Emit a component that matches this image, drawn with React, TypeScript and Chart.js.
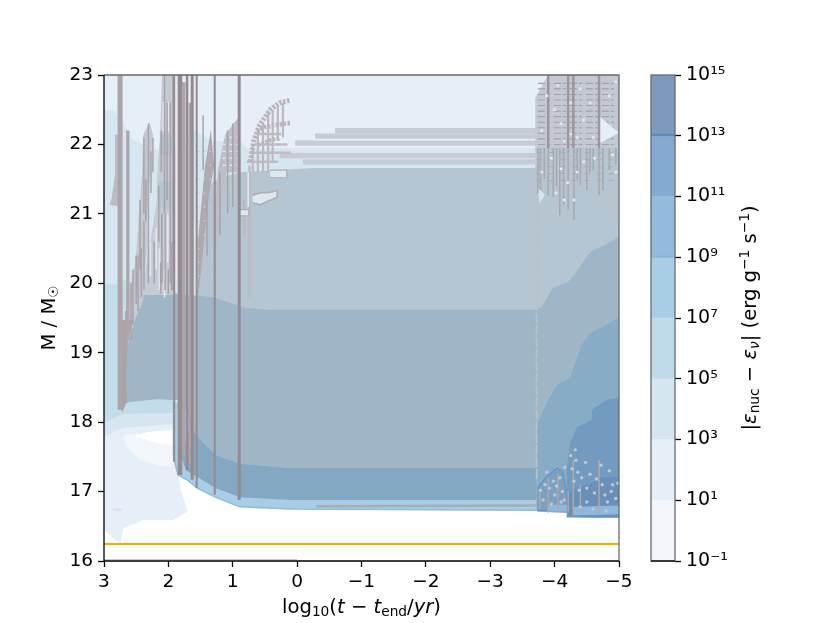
import React, { useEffect, useRef } from "react";
import { Chart, registerables } from "chart.js";

Chart.register(...registerables);

type P = [number, number];
type Seg = [number, number, number];

// ---- axes ----
const xTickValues = [3, 2, 1, 0, -1, -2, -3, -4, -5];
const yTickValues = [16, 17, 18, 19, 20, 21, 22, 23];
const barLevels = [0.1, 1e1, 1e3, 1e5, 1e7, 1e9, 1e11, 1e13, 1e15];
const barTickLabels = ["10⁻¹", "10¹", "10³", "10⁵", "10⁷", "10⁹", "10¹¹", "10¹³", "10¹⁵"];
const barColours = ["#f2f6fa", "#e6eff7", "#d6e6f1", "#bfdaea", "#a8cde5", "#93bbdc", "#85aad2", "#7e99bc"];
const barSeams: [number, number][] = [[1e9, 1.1e9], [1e13, 1.15e13]];
const barSeamColours = ["#86b6dc", "#5f8dba"];

// ---- contour regions (log t, mass) ----
const envelope: P[] = [[3, 23], [-5, 23], [-5, 16.7], [-3.7, 16.72], [0, 16.75], [0.89, 16.78], [1.27, 16.92], [1.55, 17.05], [1.7, 17.17], [1.85, 17.31], [1.82, 17.07], [1.7, 16.71], [1.93, 16.59], [2.39, 16.59], [2.7, 16.47], [2.75, 16.24], [3, 16.45]];
const halo: P[] = [[2.7, 17.81], [1.93, 17.89], [1.93, 17.35], [2.18, 17.38], [2.44, 17.45], [2.64, 17.64]];
const core: P[] = [[2.52, 17.81], [2.29, 17.86], [1.93, 17.89], [1.93, 17.67], [2.18, 17.7], [2.44, 17.77]];
const bump: P[] = [[2.86, 16.76], [2.72, 16.76], [2.72, 16.72], [2.86, 16.72]];
const shell3: P[] = [[3, 22.51], [2.83, 22.48], [2.7, 22.3], [2.55, 22.06], [2.29, 21.96], [2.13, 21.92], [1.75, 21.95], [1.62, 22.22], [1.31, 22.05], [0.89, 22.05], [0.78, 21.95], [-5, 21.95], [-5, 19], [1.9, 17.97], [2.7, 17.92], [3, 17.79]];
const shell5: P[] = [[3, 20], [2.8, 19.98], [2.7, 20.05], [2.2, 19.9], [1.9, 19.85], [1.93, 18.13], [2.7, 18.12], [3, 17.99]];
const upperZone: P[] = [[1.54, 19], [1.54, 20.55], [1.46, 21.23], [1.31, 21.46], [1.04, 21.56], [0.89, 21.6], [-0.25, 21.66], [-3.7, 21.66], [-3.7, 21.95], [-5, 21.95], [-5, 19]];
const burnEdge: P[] = [[1.92, 18.3], [1.92, 17.5], [1.85, 17.24], [1.71, 17.17], [1.55, 17.05], [1.27, 16.92], [0.89, 16.78], [0.11, 16.75], [-3.72, 16.73], [-3.72, 18], [1, 18]];
const midZone: P[] = [[2.72, 18.25], [2.7, 19.11], [2.63, 19.69], [2.52, 19.79], [2.33, 19.86], [1.97, 19.86], [1.31, 19.8], [0.78, 19.64], [0.42, 19.62], [-3.7, 19.62], [-3.8, 19.66], [-3.97, 19.93], [-4.21, 20.02], [-4.36, 20.19], [-4.52, 20.41], [-4.6, 20.48], [-4.78, 20.55], [-5, 20.67], [-5, 17.34], [0.11, 17.34], [0.89, 17.4], [1.27, 17.53], [1.55, 17.79], [1.66, 17.96], [1.74, 18.15], [1.85, 18.32], [1.93, 18.32], [2.18, 18.33], [2.6, 18.29]];
const deepZone: P[] = [[1.66, 17.96], [1.55, 17.79], [1.27, 17.53], [0.89, 17.4], [0.11, 17.34], [-3.72, 17.34], [-3.72, 16.88], [0.11, 16.88], [0.89, 16.92], [1.27, 17.05], [1.55, 17.21], [1.72, 17.3], [1.8, 17.5]];
const deepRight: P[] = [[-5, 19.51], [-4.74, 19.37], [-4.58, 19.3], [-4.44, 19.15], [-4.35, 18.94], [-4.24, 18.64], [-4.04, 18.54], [-3.9, 18.32], [-3.74, 17.99], [-3.73, 17.31], [-3.73, 16.71], [-4.19, 16.69], [-4.19, 16.63], [-4.58, 16.62], [-5, 16.62]];
const coreRight: P[] = [[-4.19, 17.34], [-4.24, 17.7], [-4.35, 17.93], [-4.58, 18.03], [-4.58, 18.18], [-4.81, 18.32], [-5, 18.35], [-5, 16.7], [-4.19, 16.7]];
const stairLeft: P[] = [[-3.73, 17.05], [-3.9, 17.24], [-4.04, 17.34], [-4.13, 17.28], [-4.19, 16.95], [-4.19, 16.73], [-3.73, 16.73]];
const stairRight: P[] = [[-4.19, 16.95], [-4.35, 17.05], [-4.58, 17.12], [-4.7, 17.2], [-5, 17.2], [-5, 16.64], [-4.19, 16.64]];
const glowLeft: P[] = [[-3.9, 16.81], [-4.19, 16.81], [-4.19, 16.72], [-3.9, 16.72]];
const glowRight: P[] = [[-4.3, 16.78], [-5, 16.8], [-5, 16.67], [-4.3, 16.66]];

// ---- convective patches ----
const plume0: P[] = [[2.83, 22.14], [2.72, 22.14], [2.72, 21.1], [2.91, 21.13], [2.88, 21.23], [2.83, 21.56]];
const plume1: P[] = [[2.29, 22.32], [2.39, 22.14], [2.41, 21.56], [2.46, 20.98], [2.49, 20.55], [2.52, 20.26], [2.6, 19.93], [2.67, 19.54], [2.72, 19.11], [2.63, 19.11], [2.52, 19.47], [2.39, 19.76], [2.33, 20.55], [2.33, 20.98], [2.29, 21.56], [2.24, 22.14]];
const plume2: P[] = [[2.1, 23], [1.9, 23], [1.9, 19.83], [2.44, 19.83], [2.35, 20.19], [2.29, 20.55], [2.18, 21.17], [2.18, 21.46], [2.13, 22.14]];
const patchA: P[] = [[2.13, 22.14], [1.9, 22.14], [1.9, 21.85], [2.13, 21.85]];
const patchB: P[] = [[2.16, 21.46], [1.94, 21.46], [1.94, 21.08], [2.16, 21.08]];
const footing: P[] = [[2.75, 19.47], [2.55, 19.47], [2.63, 19.18], [2.66, 18.65], [2.64, 18.32], [2.72, 18.13], [2.75, 18.51], [2.75, 19.08]];
const streak: P[] = [[1.34, 22.21], [1.43, 21.7], [1.54, 20.62], [1.54, 19.76], [1.46, 20.48], [1.38, 21.2], [1.29, 21.7]];
const fanCentre: P[] = [[0.92, 22.38], [1.12, 22.14], [1.23, 21.63], [1.28, 21.06], [1.26, 20.4], [1.18, 21], [1.1, 21.6], [0.92, 21.6]];
const pocket: P[] = [[0.69, 21.27], [0.58, 21.3], [0.42, 21.31], [0.31, 21.34], [0.31, 21.24], [0.58, 21.13], [0.69, 21.16]];
const pocketB: P[] = [[0.89, 21.06], [0.75, 21.06], [0.75, 20.97], [0.89, 20.97]];
const pocketC: P[] = [[0.42, 21.63], [0.16, 21.63], [0.16, 21.52], [0.42, 21.52]];
const capRight: P[] = [[-3.9, 23], [-5, 23], [-5, 21.95], [-3.7, 21.95], [-3.7, 22.67]];
const notch: P[] = [[-4.67, 22.42], [-5, 22.17], [-4.71, 22.02]];
const notchLow: P[] = [[-3.73, 21.39], [-3.85, 21.27], [-3.77, 21.16]];

// ---- arcs in the fan at log t ~ 0.5 ----
const arcOne: P[] = [[0.73, 21.75], [0.67, 22.06], [0.58, 22.28], [0.42, 22.5], [0.27, 22.6], [0.1, 22.64]];
const arcTwo: P[] = [[0.62, 22.18], [0.5, 22.25], [0.34, 22.28], [0.1, 22.31]];
const arcThree: P[] = [[0.61, 21.99], [0.42, 22.06], [0.27, 22.09]];

// ---- vertical runs: x, upper mass, lower mass ----
const stemX = [1.91, 1.82, 1.71, 1.63, 1.56, 1.28, 0.9];
const stemBase = [17.43, 17.24, 17.31, 17.17, 17.05, 16.95, 16.88];
const stemWidths = [2, 4.5, 2.5, 3, 2, 2, 3];
const coolStems: Seg[] = [[2.75, 23, 18.18]];
const thinStems: Seg[] = [[2.63, 22.2, 19.18], [1.76, 22.9, 17.5], [1.66, 22.6, 17.4]];
const plumeLines: Seg[] = [[2.38, 22.1, 21], [2.31, 22.3, 20.7], [2.24, 22.1, 21.6], [2.44, 21.2, 20.2], [2.38, 20.9, 19.9], [2.5, 20.4, 19.7], [2.58, 20, 19.2], [2.66, 19.6, 19], [2.31, 20.7, 20], [2.11, 22.2, 21.6], [2.06, 23, 21], [2.02, 22.6, 21.2], [1.97, 22.6, 20], [1.93, 23, 19.9], [2.15, 21.4, 20.6], [2.1, 21, 20], [2.05, 21, 19.9], [2.22, 20.6, 20], [1.46, 22.42, 21.63], [1.4, 21.2, 20.4], [1.2, 21.6, 20.7], [1.08, 22.2, 21.0], [1.0, 22.3, 21.1], [2.55, 20.2, 19.4], [2.47, 20.4, 19.6], [2.42, 20.5, 19.8], [2.35, 21.5, 20.9], [2.27, 21.9, 21.3], [1.95, 20.6, 19.9], [2.0, 20.2, 19.85], [2.12, 20.3, 19.85]];
const paleLines: Seg[] = [[2.08, 22.61, 22.18], [2, 22.61, 22.18], [2.05, 21, 20.3], [2.01, 21, 20.3], [2.19, 20.8, 20.2], [0.76, 21.6, 21.1], [1.87, 23, 20], [2.14, 20.5, 19.9], [2.06, 20.2, 19.8], [2.28, 20.6, 20.1]];
const fanLines: Seg[] = [[0.69, 22, 21.6], [0.61, 22.2, 21.6], [0.53, 22.3, 21.6], [0.45, 22.45, 21.6], [0.38, 22.5, 21.75], [0.3, 22.55, 22.05], [0.22, 22.6, 22.1], [0.82, 21.2, 20.7], [0.74, 21.7, 19.8]];
const capStems: Seg[] = [[-3.9, 23, 21.95], [-4.21, 23, 21.95], [-4.29, 23, 21.95], [-4.69, 23, 21.95]];
const drips: Seg[] = [[-3.74, 21.95, 21.3], [-3.78, 21.95, 21.34], [-3.84, 21.95, 21.5], [-3.9, 21.95, 21.27], [-3.98, 21.95, 21.25], [-4.03, 21.95, 21.4], [-4.08, 21.95, 20.98], [-4.14, 21.95, 21.13], [-4.21, 21.95, 21.06], [-4.3, 21.95, 20.91], [-4.35, 21.95, 21.5], [-4.4, 21.95, 21.42], [-4.5, 21.95, 21.34], [-4.55, 21.95, 21.6], [-4.6, 21.95, 21.63], [-4.69, 21.95, 21.27], [-4.75, 21.95, 21.34], [-4.85, 21.95, 21.63], [-4.95, 21.95, 21.7]];
const boundaryStem: P[] = [[-3.72, 21.3], [-3.72, 17.17]];
const lowSpikes: Seg[] = [[-3.9, 17.2, 16.7], [-4.29, 17.45, 16.65], [-4.69, 17.45, 16.68], [-4.21, 17, 16.7], [-4.05, 17.25, 16.75], [-3.77, 17.0, 16.75], [-4.4, 17.1, 16.7]];

// ---- horizontal runs: mass, start, end ----
const bandRows: Seg[] = [[22.2, -0.59, -3.73], [22.12, -0.28, -3.73], [22.02, 0.03, -3.73], [21.84, 0.27, -3.73], [21.75, -0.09, -3.73]];
const fanRows: Seg[] = [[22.15, 0.6, 0.25], [22, 0.66, 0.15], [21.88, 0.72, 0.1], [21.75, 0.78, 0.3]];
const centreRows: number[] = [22.1, 22, 21.9, 21.8, 21.7];
const streakRows: number[] = [21.9, 21.7, 21.5, 21.3, 21.1, 20.9, 20.7, 20.5, 20.3, 20.1];
const capRows: number[] = [22.88, 22.8, 22.72, 22.64, 22.56, 22.48, 22.4, 22.32, 22.24, 22.16, 22.08, 22];
const dripRows: number[] = [21.88, 21.78, 21.68, 21.58, 21.48];
const leak: P[] = [[-0.3, 16.79], [-3.72, 16.8]];
const orangeLine: P[] = [[3, 16.245], [-5, 16.245]];
const floorLine: P[] = [[3, 16.02], [0, 16.02]];

// ---- speckles ----
const capCells: P[] = [[-3.88, 22.7], [-4.0, 22.5], [-4.1, 22.3], [-4.05, 22.85], [-4.25, 22.6], [-4.4, 22.8], [-4.45, 22.35], [-4.55, 22.6], [-4.35, 22.1], [-4.25, 22.15], [-4.6, 22.1], [-4.85, 22.7], [-4.95, 22.9], [-3.8, 22.2], [-4.15, 22.05], [-3.95, 21.8], [-4.1, 21.65], [-4.2, 21.45], [-4.35, 21.6], [-4.45, 21.75], [-4.62, 21.8], [-4.9, 21.85], [-4.95, 21.6], [-4.02, 21.3], [-4.15, 21.2], [-3.8, 21.6], [-4.3, 21.2]];
const floorCells: P[] = [[-3.85, 17.1], [-3.98, 17.15], [-4.08, 17.2], [-4.12, 17.0], [-4.0, 16.95], [-3.82, 16.88], [-4.1, 16.85], [-3.95, 16.82], [-4.25, 17.52], [-4.32, 17.6], [-4.36, 17.28], [-4.42, 17.2], [-4.48, 17.42], [-4.3, 17.15], [-4.5, 17.05], [-4.62, 16.98], [-4.5, 16.85], [-4.78, 16.95], [-4.88, 17.0], [-4.95, 16.9], [-4.85, 17.3], [-4.72, 17.38], [-4.9, 17.1], [-4.4, 16.78], [-4.6, 16.75], [-4.8, 16.72], [-3.78, 17.02], [-3.88, 17.28], [-3.92, 17.05], [-4.03, 17.08], [-4.16, 17.35], [-4.27, 17.33], [-4.33, 17.45], [-4.38, 17.02], [-4.55, 17.25], [-4.65, 17.18], [-4.74, 17.1], [-4.82, 16.85], [-4.98, 17.12], [-4.15, 16.88]];

const PLOT = { left: 104, right: 619, top: 75, bottom: 561 };
const BAR = { left: 651, right: 675 };

type Run = { t: string; it?: boolean; sub?: boolean; sup?: boolean };
const FONT = '"DejaVu Sans"';
const TICK_SIZE = 18.5;
const SIZE = 19.6;
const xLabelRuns: Run[] = [{ t: "log" }, { t: "10", sub: true }, { t: "(" }, { t: "t", it: true }, { t: " − " }, { t: "t", it: true }, { t: "end", sub: true }, { t: "/" }, { t: "yr", it: true }, { t: ")" }];
const yLabelRuns: Run[] = [{ t: "M / M" }, { t: "☉", sub: true }];
const barLabelRuns: Run[] = [{ t: "|" }, { t: "ε", it: true }, { t: "nuc", sub: true }, { t: " − " }, { t: "ε", it: true }, { t: "ν", sub: true, it: true }, { t: "| (erg g" }, { t: "−1", sup: true }, { t: " s" }, { t: "−1", sup: true }, { t: ")" }];

function runFont(r: Run) {
  const s = r.sub || r.sup ? SIZE * 0.7 : SIZE;
  return `${r.it ? "italic " : ""}${s}px ${FONT}`;
}
function drawRuns(ctx: CanvasRenderingContext2D, runs: Run[], cx: number, cy: number, rot: number) {
  ctx.save();
  ctx.translate(cx, cy);
  ctx.rotate(rot);
  ctx.textBaseline = "alphabetic";
  ctx.textAlign = "left";
  ctx.fillStyle = "#000";
  let w = 0;
  for (const r of runs) { ctx.font = runFont(r); w += ctx.measureText(r.t).width; }
  let x = -w / 2;
  for (const r of runs) {
    ctx.font = runFont(r);
    ctx.fillText(r.t, x, r.sub ? 3 : r.sup ? -7 : 0);
    x += ctx.measureText(r.t).width;
  }
  ctx.restore();
}

const pts = (a: P[]) => a.map(([x, y]) => ({ x, y }));
const vert = (a: Seg[]) => a.flatMap(([x, y0, y1]) => [{ x, y: y0 }, { x, y: y1 }, { x, y: NaN }]);
const horiz = (a: Seg[]) => a.flatMap(([y, x0, x1]) => [{ x: x0, y }, { x: x1, y }, { x: NaN, y }]);
const rows = (ys: number[], x0: number, x1: number) => ys.flatMap((y) => [{ x: x0, y }, { x: x1, y }, { x: NaN, y }]);

const area = (data: P[], c: string, border?: string, bw = 1.2) => ({ kind: "a", data: pts(data), backgroundColor: c, borderColor: border ?? c, borderWidth: border ? bw : 0, fill: "shape" });
const stroke = (data: any[], c: string, w: number, dash?: number[]) => ({ kind: "s", data, borderColor: c, borderWidth: w, fill: false, borderDash: dash ?? [] });

function buildLayers() {
  const MID = "#9fb6c6";
  const UP = "#b5c5d1";
  return [
    area(envelope, "#e6eff7"),
    area(halo, "#f2f6fa"),
    area(core, "#ffffff"),
    area(bump, "#d6e6f1"),
    area(shell3, "#d6e6f1"),
    area(shell5, "#c3dcea"),
    area(upperZone, UP),
    area(burnEdge, "#a8cde5", "#8dbbdd", 1.5),
    area(midZone, MID),
    area(deepZone, "#85a8c2"),
    area(deepRight, "#88abc6"),
    area(coreRight, "#739bbf"),
    area(stairLeft, "#7d9fc2", "#5f96cc"),
    area(stairRight, "#6a8fb8", "#5f96cc"),
    area(glowLeft, "#8fb8dc"),
    area(glowRight, "#8fb8dc"),
    stroke(pts(leak), "#a6adb3", 2.5),
    area(plume0, "#b9bcc4"),
    area(plume1, "#c4c9d1"),
    area(plume2, "#c5cbd4"),
    area(patchA, UP),
    area(patchB, UP),
    area(footing, "#a9a3a7"),
    area(streak, "#aeaab0"),
    stroke(rows(streakRows, 1.55, 1.28), "#c9c9cf", 1.2, [2, 4]),
    area(fanCentre, "#bdbfc8"),
    stroke(rows(centreRows, 1.16, 0.92), "#dfe3ea", 1.5, [3, 4]),
    stroke(horiz(bandRows), "#c5ccd6", 5.2),
    stroke(horiz(fanRows), "#c0bcc2", 2.5),
    stroke(vert(fanLines), "#bdb9bf", 2.2),
    stroke(pts(arcOne), "#bab5bb", 5, [2.5, 1.5]),
    stroke(pts(arcTwo), "#bab5bb", 4.5, [2.5, 1.5]),
    stroke(pts(arcThree), "#bab5bb", 4, [2.5, 1.5]),
    area(pocket, "#dfe8ef", "#aeaeb6", 1.6),
    area(pocketB, "#dfe8ef", "#aeaeb6", 1.2),
    area(pocketC, "#dfe8ef", "#aeaeb6", 1.2),
    stroke(vert(paleLines), "#e1e8ef", 1.6),
    stroke(vert(plumeLines), "#a9a3a9", 1.5),
    stroke(vert(thinStems), "#aca6ab", 3.2),
    stroke(vert(coolStems), "#aba4aa", 5),
    area(capRight, "#c3c8d3"),
    stroke(rows(capRows, -3.74, -5), "#a2a0a9", 1.1, [7, 2, 3, 4]),
    stroke(rows(dripRows, -3.72, -5), "#a9adb5", 1, [5, 7]),
    area(notch, "#e6eff7"),
    area(notchLow, "#d3e5f0"),
    stroke(vert(drips), "#a9a8ae", 1.5),
    stroke(pts(boundaryStem), "#b9c2c9", 1.6, [10, 2]),
    stroke(vert(capStems), "#9c959b", 2.4),
    ...stemX.map((x, i) => stroke(pts([[x, 23], [x, stemBase[i]]]), "#948a8f", stemWidths[i])),
    stroke(vert(lowSpikes), "#b3a7a5", 1.5),
    { kind: "p", data: pts(capCells), backgroundColor: "#e2e8ef", pointRadius: 1.9, pointStyle: "rect" },
    { kind: "p", data: pts(floorCells), backgroundColor: "#bcc8d4", pointRadius: 1.7, pointStyle: "circle" },
    stroke(pts(orangeLine), "#ffa500", 2),
    stroke(pts(floorLine), "#c4c4c4", 1),
  ];
}

const minusLabel = (v: number) => (v < 0 ? "−" + Math.abs(v) : String(v));

export default function App() {
  const mainRef = useRef<HTMLCanvasElement>(null);
  const barRef = useRef<HTMLCanvasElement>(null);

  useEffect(() => {
    const layers = buildLayers();
    const datasets: any[] = layers.map((l: any, i) => {
      const { kind, ...rest } = l;
      return {
        ...rest,
        order: layers.length - i,
        showLine: kind !== "p",
        pointRadius: kind === "p" ? l.pointRadius : 0,
        pointBorderWidth: 0,
        spanGaps: false,
        tension: 0,
        ...(kind === "a" ? { borderDash: [1000, 0] } : {}),
        borderCapStyle: "butt",
      };
    });

    const main = new Chart(mainRef.current!, {
      type: "scatter",
      data: { datasets },
      options: {
        animation: false,
        responsive: false,
        layout: { padding: { left: 0, top: PLOT.top, right: 830 - PLOT.right, bottom: 0 } },
        plugins: { legend: { display: false }, tooltip: { enabled: false } },
        scales: {
          x: {
            type: "linear", min: -5, max: 3, reverse: true,
            afterFit: (s: any) => { s.height = 623 - PLOT.bottom; },
            afterBuildTicks: (s: any) => { s.ticks = xTickValues.map((value) => ({ value })); },
            border: { display: false },
            grid: { drawOnChartArea: false, drawTicks: true, tickLength: 6, tickColor: "#000", tickWidth: 1.3 },
            ticks: { color: "#000", font: { family: FONT, size: TICK_SIZE }, padding: 4, maxRotation: 0, autoSkip: false, callback: (v: any) => minusLabel(Number(v)) },
          },
          y: {
            type: "linear", min: 16, max: 23,
            afterFit: (s: any) => { s.width = PLOT.left; },
            afterBuildTicks: (s: any) => { s.ticks = yTickValues.map((value) => ({ value })); },
            border: { display: false },
            grid: { drawOnChartArea: false, drawTicks: true, tickLength: 6, tickColor: "#000", tickWidth: 1.3 },
            ticks: { color: "#000", font: { family: FONT, size: TICK_SIZE }, padding: 5, autoSkip: false },
          },
        },
      },
      plugins: [{
        id: "frame",
        afterDraw(c: any) {
          const ctx = c.ctx as CanvasRenderingContext2D;
          const a = c.chartArea;
          ctx.save();
          ctx.lineWidth = 1.3;
          ctx.strokeStyle = "#666b70";
          ctx.beginPath();
          ctx.moveTo(a.left, a.top); ctx.lineTo(a.right, a.top); ctx.lineTo(a.right, a.bottom);
          ctx.stroke();
          ctx.strokeStyle = "#000";
          ctx.beginPath();
          ctx.moveTo(a.left, a.top); ctx.lineTo(a.left, a.bottom); ctx.lineTo(a.right, a.bottom);
          ctx.stroke();
          ctx.restore();
          drawRuns(ctx, xLabelRuns, (a.left + a.right) / 2, 613, 0);
          drawRuns(ctx, yLabelRuns, 55, (a.top + a.bottom) / 2, -Math.PI / 2);
        },
      }],
    } as any);

    const barSets: any[] = [
      ...barSeams.map((s, i) => ({ data: [s], backgroundColor: barSeamColours[i], borderWidth: 0 })),
      ...barColours.map((c, i) => ({ data: [[barLevels[i], barLevels[i + 1]]], backgroundColor: c, borderWidth: 0 })),
    ];
    const bar = new Chart(barRef.current!, {
      type: "bar",
      data: { labels: ["ε"], datasets: barSets },
      options: {
        animation: false,
        responsive: false,
        layout: { padding: { left: BAR.left, top: PLOT.top, right: 0, bottom: 623 - PLOT.bottom } },
        plugins: { legend: { display: false }, tooltip: { enabled: false } },
        datasets: { bar: { grouped: false, barPercentage: 1, categoryPercentage: 1 } },
        scales: {
          x: { display: false },
          y: {
            type: "logarithmic", position: "right", min: barLevels[0], max: barLevels[barLevels.length - 1],
            afterFit: (s: any) => { s.width = 830 - BAR.right; },
            afterBuildTicks: (s: any) => { s.ticks = barLevels.map((value) => ({ value })); },
            border: { display: false },
            grid: { drawOnChartArea: false, drawTicks: true, tickLength: 6, tickColor: "#000", tickWidth: 1.3 },
            ticks: {
              color: "#000", font: { family: FONT, size: TICK_SIZE + 0.5 }, padding: 5, autoSkip: false,
              callback: (v: any) => { const i = barLevels.findIndex((l) => Math.abs(Math.log10(l) - Math.log10(Number(v))) < 1e-6); return i >= 0 ? barTickLabels[i] : ""; },
            },
          },
        },
      },
      plugins: [{
        id: "barframe",
        afterDraw(c: any) {
          const ctx = c.ctx as CanvasRenderingContext2D;
          const a = c.chartArea;
          ctx.save();
          ctx.lineWidth = 1.3;
          ctx.strokeStyle = "#666b70";
          ctx.strokeRect(a.left, a.top, a.right - a.left, a.bottom - a.top);
          ctx.strokeStyle = "#000";
          ctx.beginPath(); ctx.moveTo(a.left, a.bottom); ctx.lineTo(a.right, a.bottom); ctx.stroke();
          ctx.restore();
          drawRuns(ctx, barLabelRuns, 756, 318, -Math.PI / 2);
        },
      }],
    } as any);

    return () => { main.destroy(); bar.destroy(); };
  }, []);

  const style: React.CSSProperties = { position: "absolute", left: 0, top: 0, width: 830, height: 623, filter: "blur(0.5px)" };
  return (
    <div style={{ position: "absolute", left: 0, top: 0, width: 830, height: 623, background: "#fff" }}>
      <canvas ref={mainRef} width={830} height={623} style={style} />
      <canvas ref={barRef} width={830} height={623} style={style} />
    </div>
  );
}
